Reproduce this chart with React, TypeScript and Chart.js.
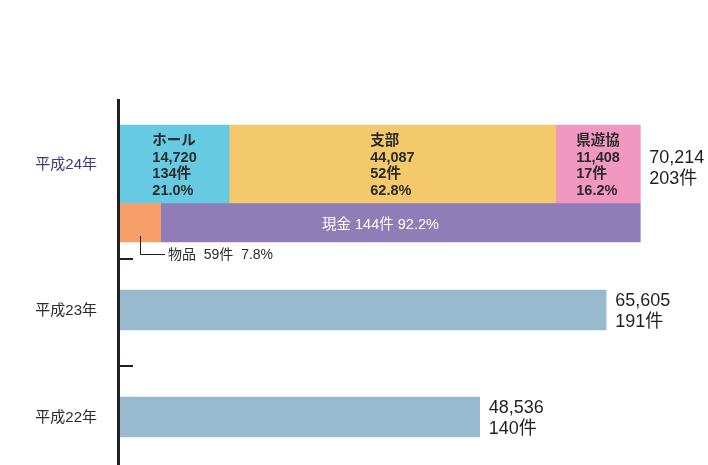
import React, { useEffect, useRef } from 'react';
import { Chart, registerables } from 'chart.js';

Chart.register(...registerables);

// ---- data ----
const years = ['平成24年', '平成23年', '平成22年'];
const totalAmounts = [70214, 65605, 48536];
const totalCounts = [203, 191, 140];

const sourceNames = ['ホール', '支部', '県遊協'];
const sourceAmounts = [14720, 44087, 11408];
const sourceCounts = [134, 52, 17];
const sourceShares = [21.0, 62.8, 16.2];

const formNames = ['物品', '現金'];
const formCounts = [59, 144];
const formShares = [7.8, 92.2];

// ---- styles ----
const sourceColors = ['#66cbe2', '#f3c96b', '#f197c0'];
const formColors = ['#f79f68', '#8f7db8'];
const pastColor = '#99bace';
const FONT = '"Liberation Sans", "Noto Sans CJK JP", sans-serif';

const fmt = (n: number) => n.toLocaleString('en-US');

const overlayPlugin = {
  id: 'overlay',
  afterDatasetsDraw(chart: any) {
    const { ctx, chartArea } = chart;
    const yScale = chart.scales.y;
    const left = chartArea.left;
    const el = (d: number, i: number) =>
      chart.getDatasetMeta(d).data[i].getProps(['x', 'y', 'base', 'height'], true);

    ctx.save();
    // axis line
    ctx.strokeStyle = '#231f20';
    ctx.lineWidth = 3;
    ctx.beginPath();
    ctx.moveTo(left - 1.5, 99);
    ctx.lineTo(left - 1.5, chart.height);
    ctx.stroke();
    // separators between categories
    ctx.lineWidth = 2;
    for (let i = 0; i < years.length - 1; i++) {
      const ty = Math.round((yScale.getPixelForValue(i) + yScale.getPixelForValue(i + 1)) / 2) + 2;
      ctx.beginPath();
      ctx.moveTo(left - 3, ty);
      ctx.lineTo(left + 13, ty);
      ctx.stroke();
    }

    ctx.textBaseline = 'middle';

    // category labels
    ctx.textAlign = 'right';
    ctx.font = `15px ${FONT}`;
    const top0 = el(0, 0);
    years.forEach((yr, i) => {
      ctx.fillStyle = i === 0 ? '#3c3a7e' : '#2b2b2b';
      const cy = i === 0 ? top0.y : yScale.getPixelForValue(i);
      ctx.fillText(yr, 97, cy + 1);
    });

    // source segment labels
    ctx.textAlign = 'left';
    ctx.font = `bold 14.5px ${FONT}`;
    ctx.fillStyle = '#2b2b2b';
    sourceNames.forEach((name, i) => {
      const e = el(i, 0);
      const lines = [name, fmt(sourceAmounts[i]), `${sourceCounts[i]}件`, `${sourceShares[i].toFixed(1)}%`];
      const w = Math.max(...lines.map((l) => ctx.measureText(l).width));
      const lx = (e.base + e.x) / 2 - w / 2;
      const t = e.y - e.height / 2;
      lines.forEach((l, k) => ctx.fillText(l, lx, t + 16 + k * 16.7));
    });

    // form labels
    const goods = el(3, 0);
    const cash = el(4, 0);
    ctx.fillStyle = '#ffffff';
    ctx.font = `14.5px ${FONT}`;
    ctx.textAlign = 'center';
    ctx.fillText(
      `${formNames[1]} ${formCounts[1]}件 ${formShares[1].toFixed(1)}%`,
      (cash.base + cash.x) / 2 - 20,
      cash.y + 2
    );
    const gx = Math.round((goods.base + goods.x) / 2) + 0.5;
    const gb = goods.y + goods.height / 2;
    const ly = Math.round(gb + 12) + 0.5;
    ctx.strokeStyle = '#231f20';
    ctx.lineWidth = 1;
    ctx.beginPath();
    ctx.moveTo(gx, gb - 6);
    ctx.lineTo(gx, ly);
    ctx.lineTo(left + 45, ly);
    ctx.stroke();
    ctx.fillStyle = '#2b2b2b';
    ctx.textAlign = 'left';
    ctx.font = `14px ${FONT}`;
    ctx.fillText(
      `${formNames[0]}  ${formCounts[0]}件  ${formShares[0].toFixed(1)}%`,
      left + 48,
      ly + 1
    );

    // totals
    ctx.font = `18px ${FONT}`;
    ctx.fillStyle = '#231f20';
    totalAmounts.forEach((amt, i) => {
      let ex: number, cy: number;
      if (i === 0) {
        const e = el(sourceNames.length - 1, 0);
        ex = e.x;
        cy = e.y + 5;
      } else {
        const e = el(5, i);
        ex = e.x;
        cy = e.y + 1.5;
      }
      ctx.fillText(fmt(amt), ex + 9, cy - 10.5);
      ctx.fillText(`${totalCounts[i]}件`, ex + 9, cy + 10.5);
    });
    ctx.restore();
  },
};

export default function App() {
  const ref = useRef<HTMLCanvasElement | null>(null);

  useEffect(() => {
    if (!ref.current) return;
    const datasets: any[] = [
      ...sourceNames.map((n, i) => ({
        label: n,
        data: [sourceAmounts[i], null, null],
        backgroundColor: sourceColors[i],
        stack: 'source',
        barThickness: 78,
        skipNull: true,
        clip: false,
        borderWidth: 0,
      })),
      ...formNames.map((n, i) => ({
        label: n,
        data: [(totalAmounts[0] * formShares[i]) / 100, null, null],
        backgroundColor: formColors[i],
        stack: 'form',
        barThickness: 39,
        skipNull: true,
        clip: false,
        borderWidth: 0,
      })),
      {
        label: '前年',
        data: [null, totalAmounts[1], totalAmounts[2]],
        backgroundColor: pastColor,
        stack: 'past',
        barThickness: 40,
        skipNull: true,
        clip: false,
        borderWidth: 0,
      },
    ];
    const chart = new Chart(ref.current, {
      type: 'bar',
      data: { labels: years, datasets },
      options: {
        indexAxis: 'y',
        animation: false,
        responsive: false,
        devicePixelRatio: 1,
        layout: { padding: { left: 120, right: 10, top: 203, bottom: 48 } },
        scales: {
          x: { stacked: true, min: 0, max: 78000, display: false },
          y: { type: 'category', offset: false, display: false },
        },
        plugins: { legend: { display: false }, tooltip: { enabled: false } },
      } as any,
      plugins: [overlayPlugin],
    });
    return () => chart.destroy();
  }, []);

  return (
    <div style={{ position: 'absolute', left: 0, top: 0, width: 708, height: 465, background: '#fff' }}>
      <canvas ref={ref} width={708} height={465} style={{ display: 'block' }} />
    </div>
  );
}
